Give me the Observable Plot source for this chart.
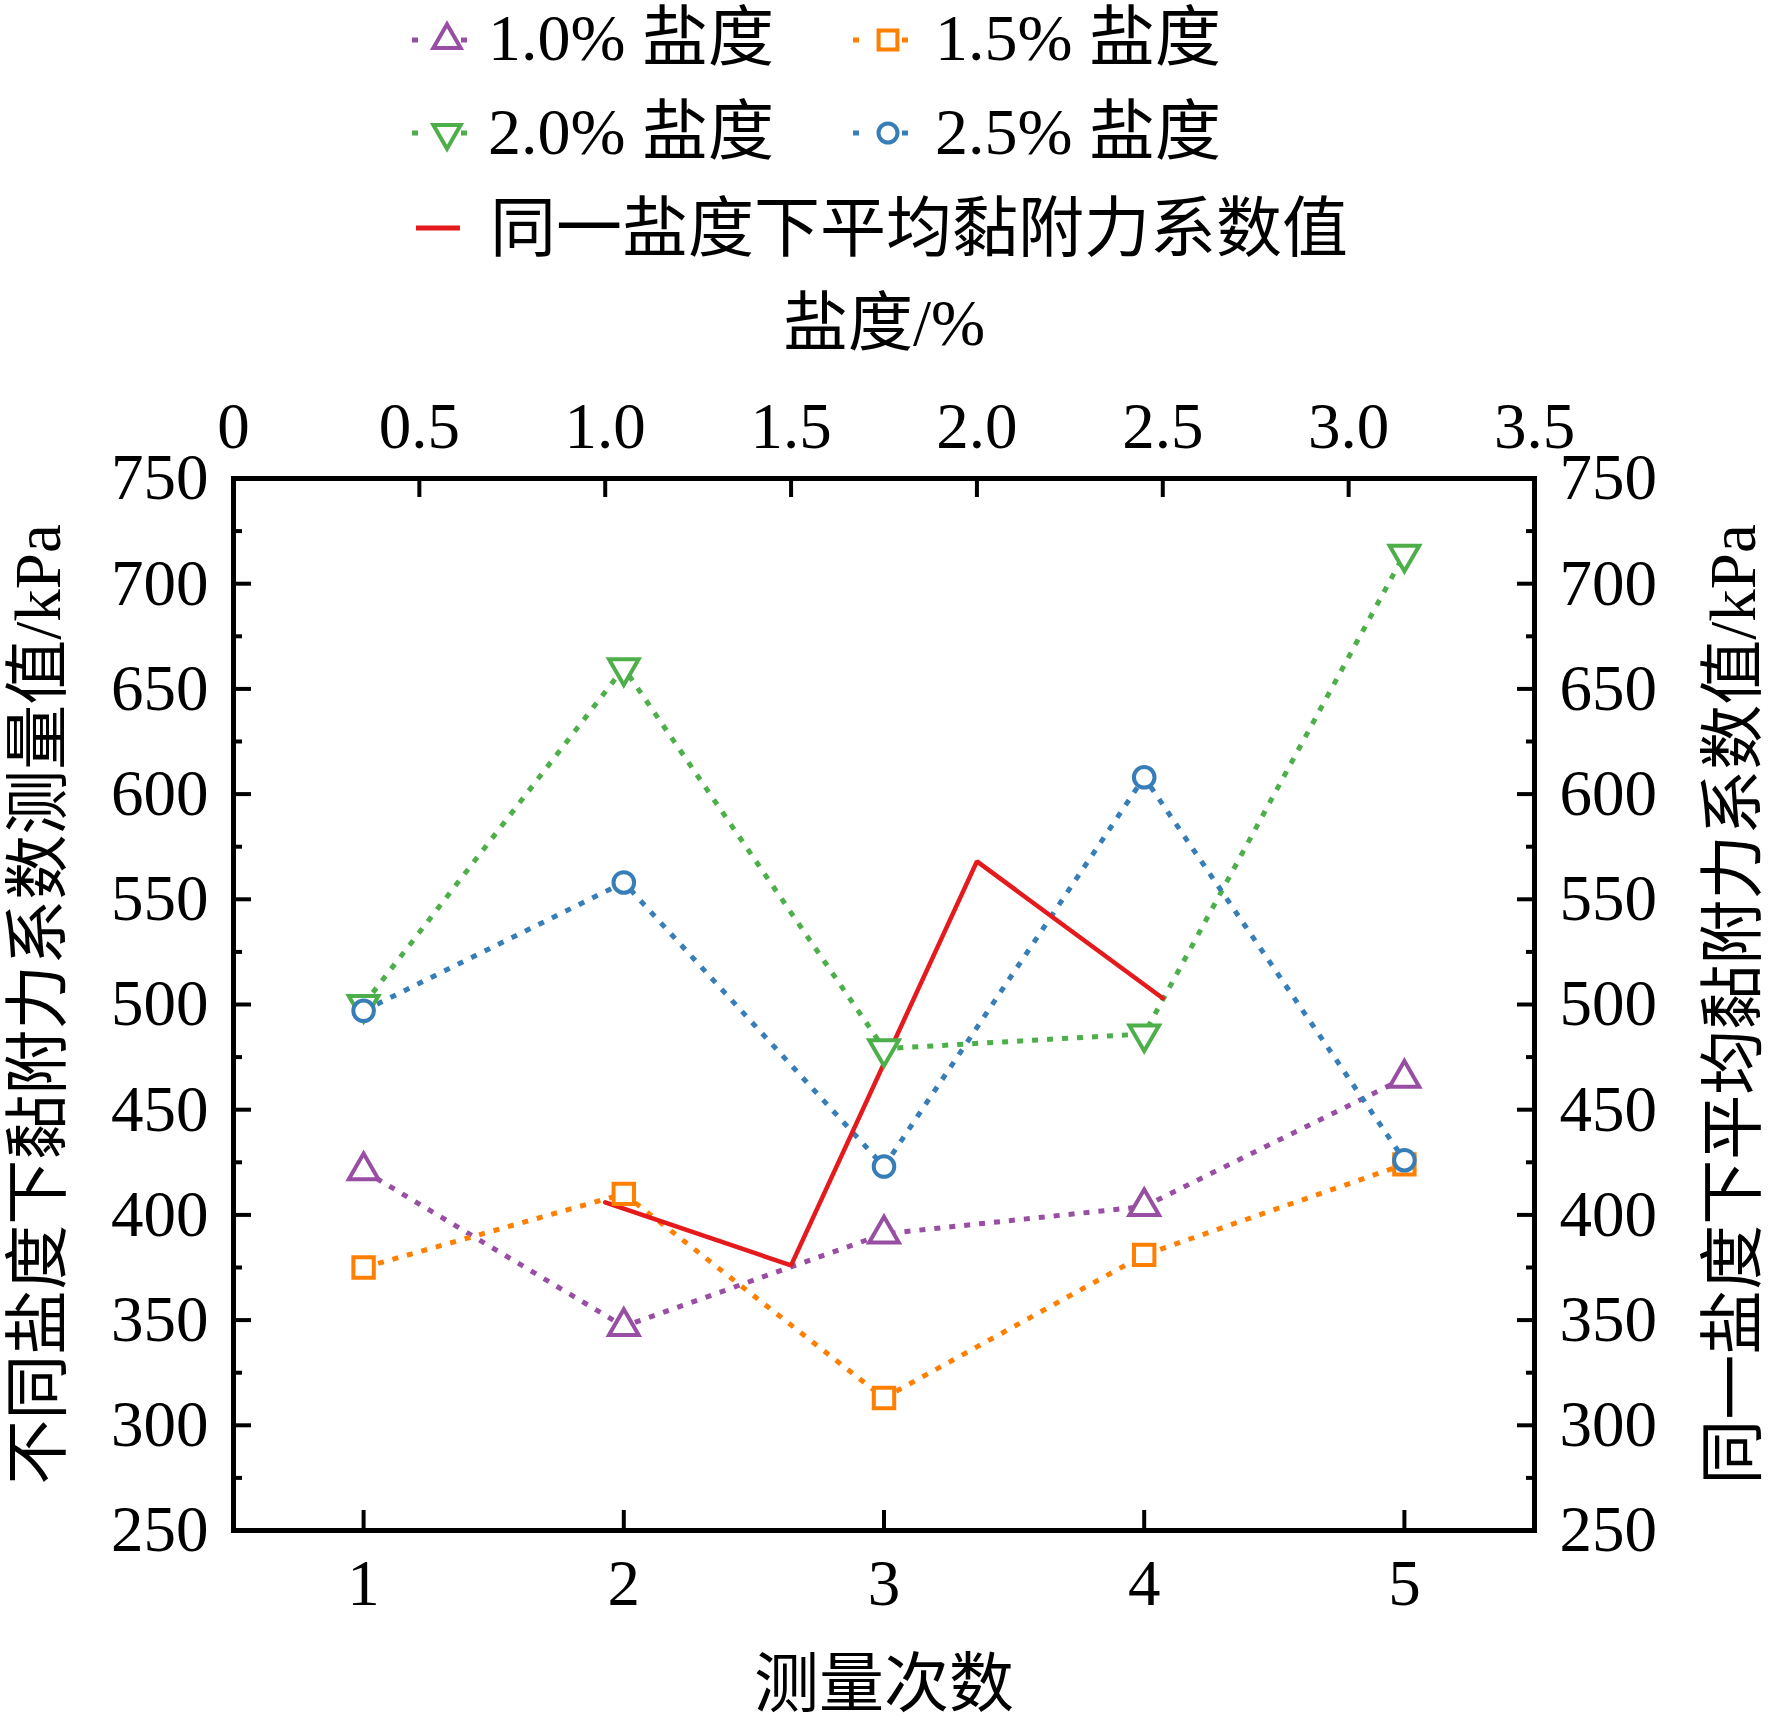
<!DOCTYPE html>
<html><head><meta charset="utf-8">
<script src="https://cdn.jsdelivr.net/npm/d3@7"></script>
<script src="https://cdn.jsdelivr.net/npm/@observablehq/plot@0.6"></script>
<style>
body{margin:0;background:#fff;}
#wrap{position:relative;width:1772px;height:1728px;background:#fff;}
#chart{position:absolute;left:0;top:0;}
#legend{position:absolute;left:0;top:0;}
</style></head><body>
<div id="wrap"><div id="chart"></div><svg id="legend" width="1772" height="290"></svg></div>
<script>
// ---- data ----
const measurements = [1, 2, 3, 4, 5];
const salt10 = [421, 347, 391, 404, 465];
const salt15 = [375, 410, 313, 381, 424];
const salt20 = [500, 660, 479, 486, 714];
const salt25 = [497, 558, 423, 608, 426];
const avgSalinity = [1.0, 1.5, 2.0, 2.5];
const avgValues = [406, 376, 568, 503];
const seriesNames = ["1.0% 盐度", "1.5% 盐度", "2.0% 盐度", "2.5% 盐度"];
const avgName = "同一盐度下平均黏附力系数值";
const yTicks = [250, 300, 350, 400, 450, 500, 550, 600, 650, 700, 750];
const yMinor = [275, 325, 375, 425, 475, 525, 575, 625, 675, 725];
const bottomTicks = [1, 2, 3, 4, 5];
const topTicks = [0, 0.5, 1.0, 1.5, 2.0, 2.5, 3.0, 3.5];
const topLabels = ["0", "0.5", "1.0", "1.5", "2.0", "2.5", "3.0", "3.5"];

const colors = ["#984ea3", "#ff7f00", "#4daf4a", "#377eb8"];
const red = "#e41a1c";
const FONT = '"Liberation Serif","Times New Roman","Noto Sans CJK SC",serif';

// top (salinity) axis spans the same frame as the bottom axis domain [0.5, 5.5]
const toX = s => 0.5 + s * 5 / 3.5;
const topTicksX = topTicks.map(toX);

const allSeries = [salt10, salt15, salt20, salt25];
const styles = [
  {symbol: "triangle", r: 11, rotate: 0},
  {symbol: "square", r: 11.5, rotate: 0},
  {symbol: "triangle", r: 11, rotate: 180},
  {symbol: "circle", r: 10.3, rotate: 0}
];
const tables = allSeries.map((vals, k) => measurements.map((m, i) => ({x: m, y: vals[i], s: seriesNames[k]})));
const avgTable = avgSalinity.map((s, i) => ({x: toX(s), y: avgValues[i]}));

const marks = [];
tables.forEach((t, k) => marks.push(Plot.line(t, {x: "x", y: "y", stroke: colors[k], strokeWidth: 5, strokeDasharray: "6,9", strokeLinecap: "butt"})));
marks.push(Plot.line(avgTable, {x: "x", y: "y", stroke: red, strokeWidth: 4.5, strokeLinejoin: "miter"}));
tables.forEach((t, k) => marks.push(Plot.dot(t, {x: "x", y: "y", symbol: styles[k].symbol, r: styles[k].r, rotate: styles[k].rotate, stroke: colors[k], fill: "white", strokeWidth: 4})));

const axisCommon = {strokeWidth: 4, fontSize: 65};
marks.push(
  Plot.axisY({anchor: "left", ticks: yTicks, tickSize: -18, tickPadding: 43, ...axisCommon,
    label: "不同盐度下黏附力系数测量值/kPa", labelAnchor: "center", labelOffset: 220, labelArrow: "none"}),
  Plot.axisY({anchor: "left", ticks: yMinor, tickSize: -9, tickFormat: () => "", label: null, strokeWidth: 4}),
  Plot.axisY({anchor: "right", ticks: yTicks, tickSize: -18, tickPadding: 43, ...axisCommon,
    label: "同一盐度下平均黏附力系数值/kPa", labelAnchor: "center", labelOffset: 220, labelArrow: "none"}),
  Plot.axisY({anchor: "right", ticks: yMinor, tickSize: -9, tickFormat: () => "", label: null, strokeWidth: 4}),
  Plot.axisX({anchor: "bottom", ticks: bottomTicks, tickSize: -20, tickPadding: 48, ...axisCommon,
    tickFormat: d => String(d),
    label: "测量次数", labelAnchor: "center", labelOffset: 175, labelArrow: "none"}),
  Plot.axisX({anchor: "top", ticks: topTicksX, tickSize: -18, tickPadding: 49, ...axisCommon,
    tickFormat: d => topLabels[topTicksX.findIndex(t => Math.abs(t - d) < 1e-9)],
    label: "盐度/%", labelAnchor: "center", labelOffset: 180, labelArrow: "none"}),
  Plot.frame({stroke: "#000", strokeWidth: 5})
);

const chart = Plot.plot({
  width: 1772, height: 1728,
  marginLeft: 233, marginRight: 238, marginTop: 478, marginBottom: 198,
  style: {fontFamily: FONT, fontSize: "65px", color: "#000", background: "#fff"},
  x: {domain: [0.5, 5.5]},
  y: {domain: [250, 750]},
  marks
});
document.getElementById("chart").appendChild(chart);

// ---- legend ----
const lg = d3.select("#legend").style("font-family", FONT);
const legendItems = [
  {k: 0, mx: 447, my: 40, tx: 488, ty: 60},
  {k: 1, mx: 888, my: 40, tx: 935, ty: 60},
  {k: 2, mx: 447, my: 133, tx: 488, ty: 154},
  {k: 3, mx: 888, my: 133, tx: 935, ty: 154}
];
const symMap = {triangle: d3.symbolTriangle, square: d3.symbolSquare, circle: d3.symbolCircle};
legendItems.forEach(it => {
  const st = styles[it.k];
  lg.append("line").attr("x1", it.mx - 35).attr("x2", it.mx + 20).attr("y1", it.my).attr("y2", it.my)
    .attr("stroke", colors[it.k]).attr("stroke-width", 5).attr("stroke-dasharray", "6,43");
  lg.append("path").attr("d", d3.symbol(symMap[st.symbol], Math.PI * st.r * st.r * 0.85)())
    .attr("transform", `translate(${it.mx},${it.my}) rotate(${st.rotate})`)
    .attr("fill", "white").attr("stroke", colors[it.k]).attr("stroke-width", 4);
  lg.append("text").attr("x", it.tx).attr("y", it.ty).attr("font-size", 66).text(seriesNames[it.k]);
});
lg.append("line").attr("x1", 416).attr("x2", 460).attr("y1", 228).attr("y2", 228).attr("stroke", red).attr("stroke-width", 5);
lg.append("text").attr("x", 490).attr("y", 251).attr("font-size", 66).text(avgName);
</script>
</body></html>
